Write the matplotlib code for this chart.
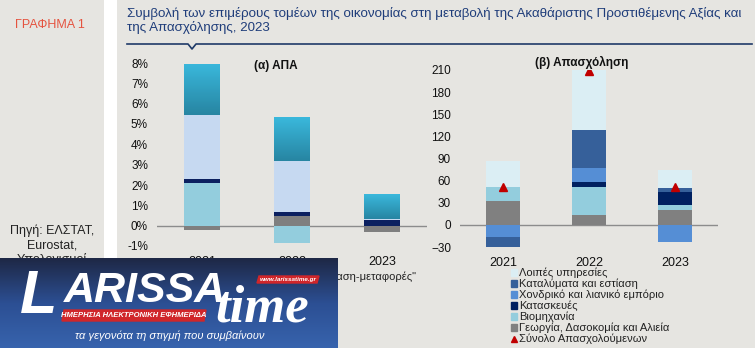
import numpy as np
import matplotlib
matplotlib.use("Agg")
from matplotlib import pyplot as plt
from matplotlib.patches import Rectangle, Patch, Polygon
from matplotlib.lines import Line2D
from matplotlib.colors import LinearSegmentedColormap

plt.rcParams['font.family'] = ['Liberation Sans', 'DejaVu Sans']

years = ['2021', '2022', '2023']

# (α) ΑΠΑ, % contributions, bottom -> top
gva_agri = [-0.21, 0.49, -0.33]
gva_ind = [2.08, -0.84, 0.0]
gva_constr = [0.20, 0.17, 0.28]
gva_trade = [3.14, 2.51, 0.06]
gva_other = [2.52, 2.15, 1.21]

# (β) Απασχόληση, thousands of persons, bottom -> top
emp_agri = [33, 14, 19.5]
emp_ind = [18, 37, 7.5]
emp_constr = [1, 6.5, 17]
emp_retail = [-17, 20, -23]
emp_hotels = [-13, 51.5, 6]
emp_other = [35, 80.5, 24.5]
emp_total = [51, 209, 52]

gva_labels = ['Υπηρεσίες', '"Εμπόριο-εστίαση-μεταφορές"', 'Κατασκευές',
              'Βιομηχανία', 'Γεωργία']
emp_labels = ['Λοιπές υπηρεσίες', 'Καταλύματα και εστίαση',
              'Χονδρικό και λιανικό εμπόριο', 'Κατασκευές', 'Βιομηχανία',
              'Γεωργία, Δασοκομία και Αλιεία', 'Σύνολο Απασχολούμενων']

BG = '#e6e5e1'
GRAY = '#7f7f7f'
LBLUE = '#93cddd'
NAVY = '#0b2060'
LAV = '#c6d9f1'
TEAL_TOP, TEAL_BOT = '#3ab8dc', '#2785a2'

W, H = 755, 348
fig = plt.figure(figsize=(W / 100, H / 100), dpi=100, facecolor=BG)


def fx(px):
    return px / W


def fy(py):
    return 1 - py / H


# white separator strip between the side note and the charts
fig.patches.append(Rectangle((fx(104), 0), fx(13), 1, transform=fig.transFigure,
                             facecolor='white', edgecolor='none', zorder=0))

fig.text(fx(50), fy(25), 'ΓΡΑΦΗΜΑ 1', color='#e5533f', fontsize=9,
         ha='center', va='center')
fig.text(fx(52), fy(231), 'Πηγή: ΕΛΣΤΑΤ,', color='#222222', fontsize=9,
         ha='center', va='center')
fig.text(fx(52), fy(245), 'Eurostat,', color='#222222', fontsize=9,
         ha='center', va='center')
fig.text(fx(52), fy(259), 'Υπολογισμοί', color='#222222', fontsize=9,
         ha='center', va='center')

fig.text(fx(127), fy(13), 'Συμβολή των επιμέρους τομέων της οικονομίας στη μεταβολή '
         'της Ακαθάριστης Προστιθέμενης Αξίας και', color='#1f3d7a', fontsize=9.6,
         ha='left', va='center')
fig.text(fx(127), fy(28), 'της Απασχόλησης, 2023', color='#1f3d7a', fontsize=9.6,
         ha='left', va='center')
lx = [127, 188, 192, 196, 752]
ly = [44, 44, 49, 44, 44]
fig.add_artist(Line2D([fx(v) for v in lx], [fy(v) for v in ly],
                      transform=fig.transFigure, color='#1f3a68', lw=1.2))


def stack(ax, x, series, colors, width):
    pos = np.zeros(len(x))
    neg = np.zeros(len(x))
    for vals, c in zip(series, colors):
        vals = np.asarray(vals, dtype=float)
        base = np.where(vals >= 0, pos, neg)
        if c == 'grad':
            for xi, b, v in zip(x, base, vals):
                if v == 0:
                    continue
                rect = ax.bar(xi, v, width, bottom=b, color='none', lw=0, zorder=2)[0]
                g = np.linspace(0, 1, 64).reshape(-1, 1)
                cmap = LinearSegmentedColormap.from_list('t', [TEAL_BOT, TEAL_TOP])
                im = ax.imshow(g, cmap=cmap, origin='lower', aspect='auto', zorder=2,
                               extent=[xi - width / 2, xi + width / 2, b, b + v])
                im.set_clip_path(rect)
        else:
            ax.bar(x, vals, width, bottom=base, color=c, lw=0, zorder=2)
        pos = pos + np.where(vals >= 0, vals, 0)
        neg = neg + np.where(vals < 0, vals, 0)


def style(ax):
    ax.set_facecolor('none')
    for s in ax.spines.values():
        s.set_visible(False)
    ax.tick_params(length=0, labelsize=8.5, colors='#111111')
    ax.tick_params(axis='y', pad=6.5)
    ax.tick_params(axis='x', pad=7.5, labelsize=9)
    ax.axhline(0, color='#8c8c8c', lw=1, zorder=1)


x = np.arange(len(years))

# (α) ΑΠΑ
ax1 = fig.add_axes([fx(157), fy(246), fx(270), (246 - 63) / H])
stack(ax1, x, [gva_agri, gva_ind, gva_constr, gva_trade, gva_other],
      [GRAY, LBLUE, NAVY, LAV, 'grad'], 0.4)
style(ax1)
ax1.set_xlim(-0.5, 2.5)
ax1.set_ylim(-1, 8)
ax1.set_yticks(range(-1, 9))
ax1.set_yticklabels([f'{v}%' for v in range(-1, 9)])
ax1.set_xticks(x)
ax1.set_xticklabels(years)
ax1.text(0.44, 0.985, '(α) ΑΠΑ', transform=ax1.transAxes, ha='center', va='center',
         fontsize=8.5, fontweight='bold', color='#111111')
h1 = [Patch(color=TEAL_TOP), Patch(color=LAV), Patch(color=NAVY),
      Patch(color=LBLUE), Patch(color=GRAY)]
ax1.legend(h1, gva_labels, loc='upper left', bbox_to_anchor=(fx(252), fy(253)),
           bbox_transform=fig.transFigure, frameon=False, fontsize=8,
           handlelength=0.6, handleheight=0.6, handletextpad=0.3, labelspacing=0.18,
           borderpad=0, labelcolor='#222222')

# (β) Απασχόληση
ax2 = fig.add_axes([fx(460), fy(247), fx(258), (247 - 70) / H])
RC = ['#808080', LBLUE, '#002060', '#558ed5', '#36609a', '#dbeef4']
stack(ax2, x, [emp_agri, emp_ind, emp_constr, emp_retail, emp_hotels, emp_other],
      RC, 0.4)
ax2.plot(x, emp_total, ls='none', marker='^', color='#c00000', ms=6, zorder=3)
style(ax2)
ax2.set_xlim(-0.5, 2.5)
ax2.set_ylim(-30, 210)
ax2.set_yticks(range(-30, 211, 30))
ax2.set_xticks(x)
ax2.set_xticklabels(years)
ax2.text(0.47, 1.04, '(β) Απασχόληση', transform=ax2.transAxes, ha='center',
         va='center', fontsize=8.5, fontweight='bold', color='#111111')
h2 = [Patch(color=c) for c in RC[::-1]]
h2.append(Line2D([], [], ls='none', marker='^', color='#c00000', ms=4))
ax2.legend(h2, emp_labels, loc='upper left', bbox_to_anchor=(fx(505), fy(262)),
           bbox_transform=fig.transFigure, frameon=False, fontsize=8,
           handlelength=0.6, handleheight=0.6, handletextpad=0.15, labelspacing=0.05,
           borderpad=0, labelcolor='#222222')

# site banner in the lower left corner
wm = fig.add_axes([0, 0, fx(338), (348 - 258) / H], zorder=10)
wm.set_xlim(0, 338)
wm.set_ylim(90, 0)
wm.axis('off')
g = np.linspace(0, 1, 64).reshape(-1, 1)
wm.imshow(g, cmap=LinearSegmentedColormap.from_list('wm', ['#1e2846', '#2c4f93', '#3763ad']),
          aspect='auto', extent=[0, 338, 90, 0])
wm.text(20, 55, 'L', color='white', fontsize=44, fontweight='bold', style='italic',
        ha='left', va='baseline')
wm.text(64, 44, 'ARISSA', color='white', fontsize=31, fontweight='bold',
        style='italic', ha='left', va='baseline')
wm.add_patch(Polygon([[259, 18], [319, 18], [317, 25], [257, 25]], color='#d0262a'))
wm.text(288, 21.5, 'www.larissatime.gr', color='white', fontsize=4.5, fontweight='bold',
        style='italic', ha='center', va='center')
wm.text(215, 64, 'time', color='white', fontsize=38, family='Liberation Serif',
        fontweight='bold', style='italic', ha='left', va='baseline')
wm.add_patch(Polygon([[64, 52], [206, 52], [204, 63], [62, 63]], color='#d0262a'))
wm.text(134, 57.5, 'ΗΜΕΡΗΣΙΑ ΗΛΕΚΤΡΟΝΙΚΗ ΕΦΗΜΕΡΙΔΑ', color='white', fontsize=5.5,
        fontweight='bold', style='italic', ha='center', va='center')
wm.text(170, 78, 'τα γεγονότα τη στιγμή που συμβαίνουν', color='white', fontsize=8,
        style='italic', ha='center', va='center')

fig.savefig('out.png', dpi=100, facecolor=BG)
